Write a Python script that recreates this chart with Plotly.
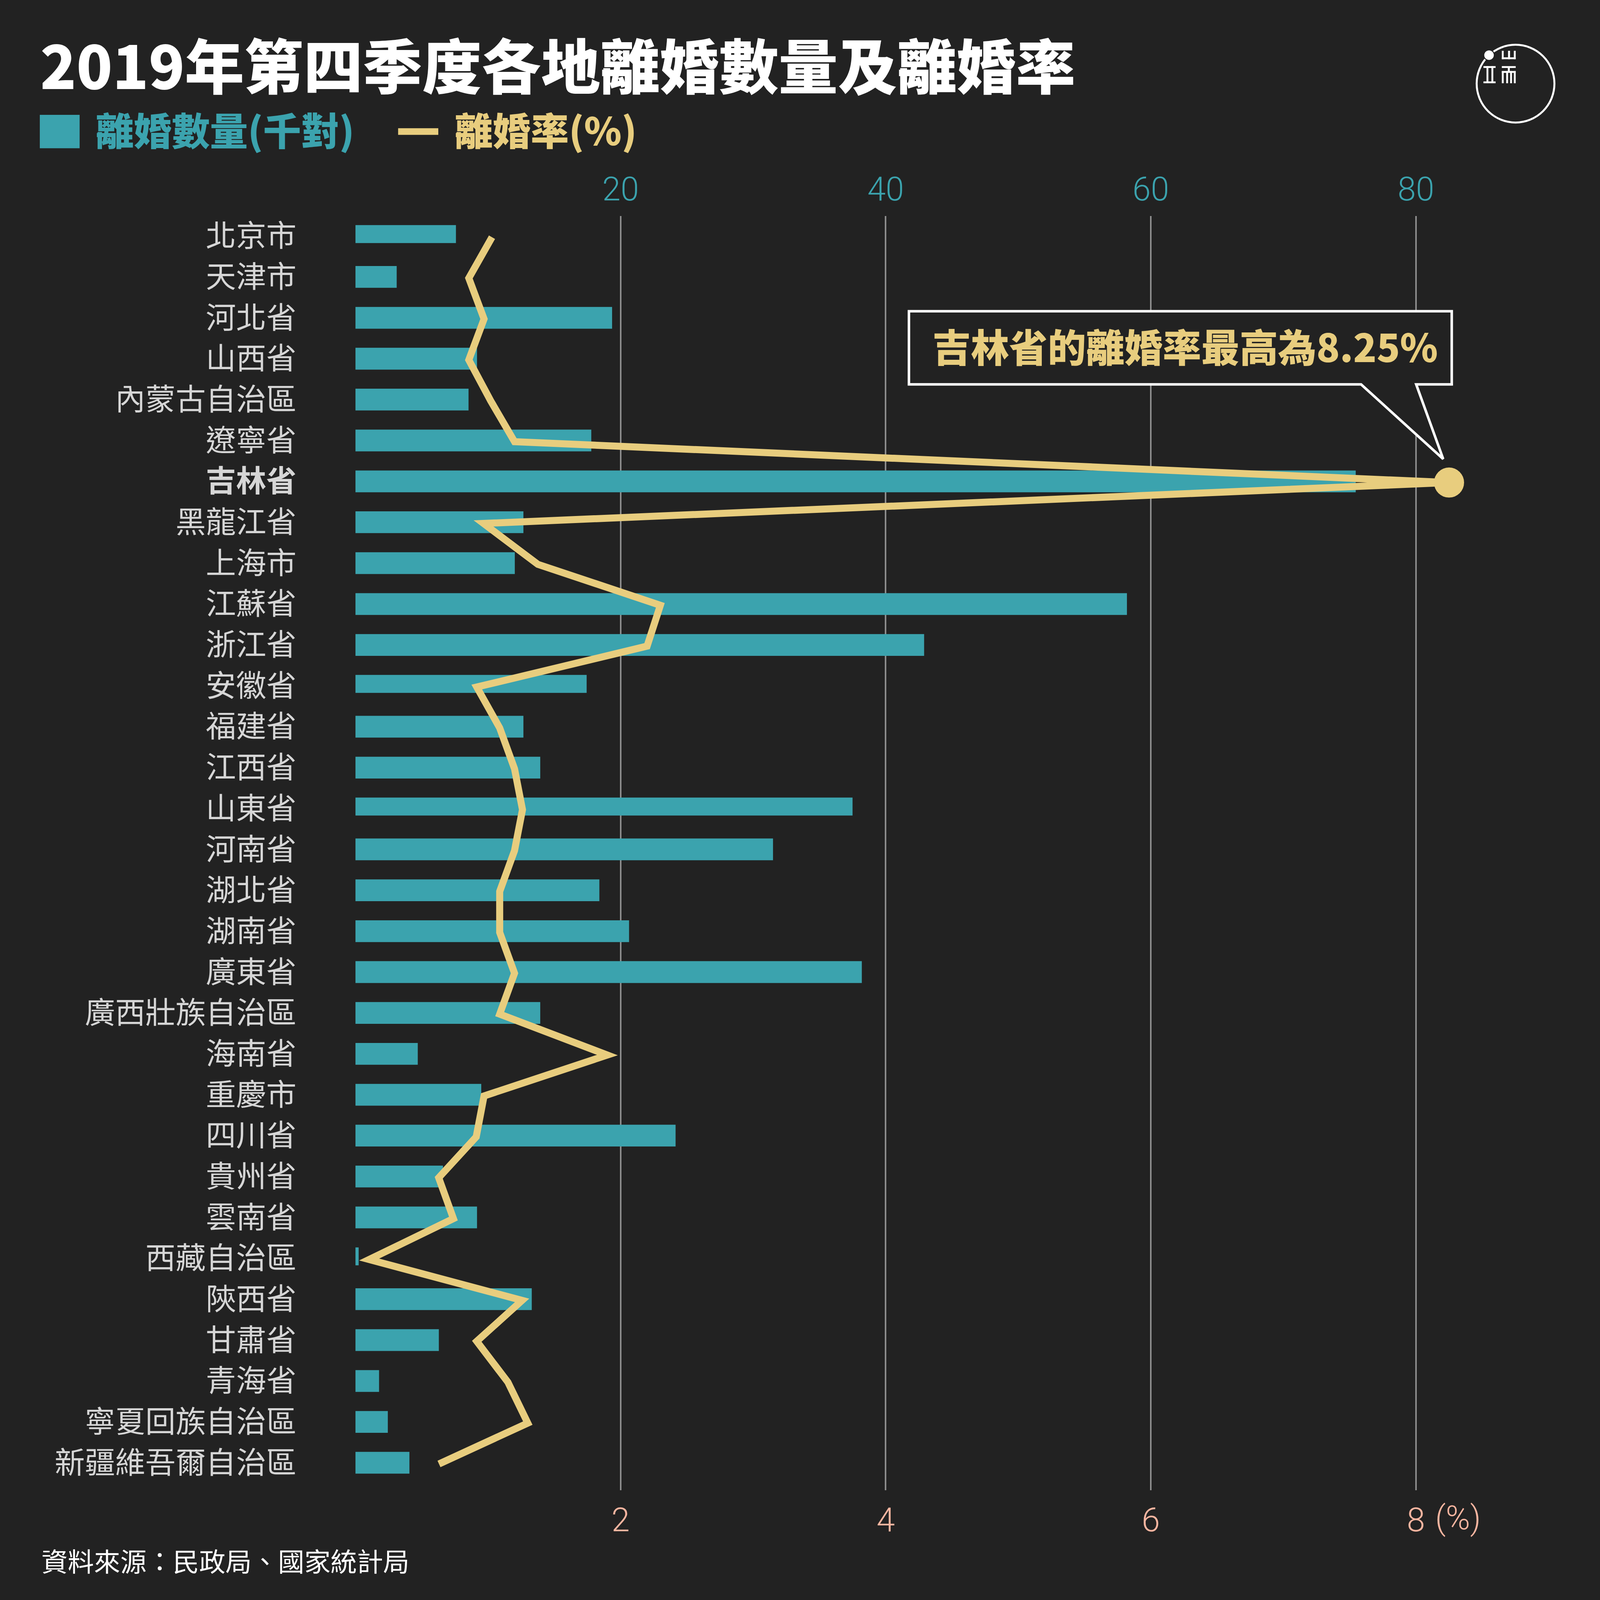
import plotly.graph_objects as go

# The reference is 4501x5359 but the browser window is limited to 4096x4096,
# so the whole layout is scaled proportionally to fit in that window.
W0, H0 = 4501, 5359
WIN = 4096
SX, SY = WIN/W0, WIN/H0
S = 0.84            # uniform scale for round things (logo, dot, strokes)
L, R, T, B = 1000, 4300, 723, 4992   # plot area in reference pixels

provinces = ["北京市","天津市","河北省","山西省","內蒙古自治區","遼寧省","吉林省","黑龍江省","上海市","江蘇省",
             "浙江省","安徽省","福建省","江西省","山東省","河南省","湖北省","湖南省","廣東省","廣西壯族自治區",
             "海南省","重慶市","四川省","貴州省","雲南省","西藏自治區","陝西省","甘肅省","青海省","寧夏回族自治區",
             "新疆維吾爾自治區"]
divorces = [7.58,3.11,19.36,9.17,8.53,17.79,75.46,12.67,12.02,58.2,
            42.9,17.44,12.67,13.94,37.5,31.5,18.40,20.64,38.2,13.94,
            4.70,9.49,24.15,6.60,9.17,0.24,13.3,6.29,1.78,2.44,4.07]
rates = [1.03,0.855,0.97,0.855,1.02,1.20,8.25,0.966,1.376,2.30,
         2.20,0.915,1.088,1.20,1.26,1.20,1.088,1.088,1.20,1.088,
         1.90,0.97,0.911,0.628,0.739,0.103,1.257,0.915,1.15,1.30,0.63]
count_ticks = [0,20,40,60,80]
count_labels = ["","20","40","60","80"]
rate_ticks = [2,4,6,8]
rate_labels = ["2","4","6","8"]
highlight = "吉林省"

BG, TEAL, GOLD, GRID, LABEL, PINK, WHITE = "#222222","#3BA3AE","#E8CD7E","#8C8C8C","#D6D6D6","#F8B5A0","#FFFFFF"
CJK = "Noto Sans CJK TC"
LIGHT = "Roboto"

STEP = 137.0
Y0 = 790.0
BAR_H = 73.0
SHORT = {"北京市","安徽省","山東省","西藏自治區"}
bar_w = [(60.0 if p in SHORT else BAR_H)/STEP for p in provinces]
PX_PER_K = 37.29

xr1 = [0, (R-L)/PX_PER_K]
xr2 = [0, (R-L)/(PX_PER_K*10)]
yr = [(B-Y0)/STEP, (T-Y0)/STEP]
yr2 = [(B-Y0-4)/STEP, (T-Y0-4)/STEP]

def px(x): return (x-L)/(R-L)
def py(y): return (B-y)/(B-T)
def fs(s): return round(s*SX, 1)

LCX, LCY = 4263.5, 279.5
def lx(x): return LCX+(x-LCX)*S/SX
def ly(y): return LCY+(y-LCY)*S/SY

fig = go.Figure()
fig.add_bar(y=provinces, x=divorces, orientation="h", width=bar_w, offset=-BAR_H/2/STEP,
            marker=dict(color=TEAL, line=dict(width=0)), xaxis="x", yaxis="y", showlegend=False, hoverinfo="x+y")
fig.add_scatter(y=provinces, x=rates, mode="lines", line=dict(color=GOLD, width=18), xaxis="x2", yaxis="y2",
                showlegend=False, hoverinfo="x+y")
i = provinces.index(highlight)
fig.add_scatter(y=[provinces[i]], x=[rates[i]], mode="markers", marker=dict(color=GOLD, size=77, line=dict(width=0)),
                xaxis="x2", yaxis="y2", showlegend=False, hoverinfo="x+y")

shapes = []
def rect(x0,y0,x1,y1,color):
    shapes.append(dict(type="rect", xref="paper", yref="paper", x0=px(x0), x1=px(x1), y0=py(y1), y1=py(y0),
                       fillcolor=color, line=dict(width=0), layer="above"))
def lrect(x0,y0,x1,y1,color=WHITE):
    rect(lx(x0),ly(y0),lx(x1),ly(y1),color)
def lcirc(cx,cy,r,fill,lc,lw):
    shapes.append(dict(type="circle", xref="paper", yref="paper", x0=px(lx(cx-r)), x1=px(lx(cx+r)),
                       y0=py(ly(cy+r)), y1=py(ly(cy-r)), fillcolor=fill, line=dict(color=lc, width=lw), layer="above"))
# legend swatches
rect(112,384,224,496,TEAL)
rect(1120,429,1233,451,GOLD)
# callout
pts = [(2557,1042),(4084,1042),(4084,1287),(3984,1287),(4060,1537),(3829,1287),(2557,1287)]
path = "M " + " L ".join(f"{px(a):.5f},{py(b):.5f}" for a,b in pts) + " Z"
shapes.append(dict(type="path", xref="paper", yref="paper", path=path, fillcolor=BG,
                   line=dict(color=WHITE, width=6.5), layer="above"))
# logo
lcirc(4263.5,279.5,118.5,"rgba(0,0,0,0)",WHITE,5)
lcirc(4182.7,192.7,16,WHITE,BG,2.5)
lrect(4221.7,199.3,4264,205); lrect(4221.7,179.3,4227.3,205)
lrect(4240.7,179.3,4246.7,205); lrect(4258.3,179.3,4264,205)
lrect(4221.7,226,4264,231.7); lrect(4240,231,4246,245); lrect(4221.7,241,4264,246.5)
for a in (4221.7,4235,4247,4258.3):
    lrect(a,241,a+5.7,278.3)
lrect(4165.7,226,4202.7,231.7); lrect(4165.7,272.7,4202.7,278.3)
lrect(4175,226,4180.7,278); lrect(4190,226,4195.7,278)

def note(text,x,y,size,color,anchor="left",family=CJK,weight=None):
    f = dict(family=family,size=fs(size),color=color)
    if weight: f["weight"]=weight
    return dict(text=text,xref="paper",yref="paper",x=px(x),y=py(y),xanchor=anchor,yanchor="middle",
                showarrow=False,font=f,borderpad=0,align="left")
annos = [
    note("離婚數量(千對)",268,430,107,TEAL,weight=900),
    note("離婚率(%)",1278,430,107,GOLD,weight=900),
    note("吉林省的離婚率最高為8.25%",2622,1156,108,GOLD,weight=900),
    note("(%)",4036,5086,93,PINK,family=LIGHT,weight=300),
    note("資料來源：民政局、國家統計局",115,5225,74,WHITE,weight=400),
]

tick_text = [f"<b>{p}</b>" if p==highlight else p for p in provinces]

fig.update_layout(
    width=WIN, height=WIN, autosize=False,
    margin=dict(l=L*SX, r=(W0-R)*SX, t=T*SY, b=(H0-B)*SY, pad=0),
    paper_bgcolor=BG, plot_bgcolor=BG, showlegend=False,
    title=dict(text="2019年第四季度各地離婚數量及離婚率", x=113/W0, y=1-229/H0, xanchor="left", yanchor="middle",
               xref="container", yref="container",
               font=dict(family=CJK, size=fs(167), color=WHITE, weight=900), pad=dict(l=0,r=0,t=0,b=0)),
    xaxis=dict(domain=[0,1], range=xr1, side="top", anchor="y", tickmode="array", tickvals=count_ticks, ticktext=count_labels,
               showgrid=True, gridcolor=GRID, gridwidth=3.6, zeroline=False, showline=False, ticks="",
               ticklabelstandoff=22, tickfont=dict(family=LIGHT,size=fs(93),color=TEAL,weight=300)),
    xaxis2=dict(domain=[0,1], range=xr2, side="bottom", overlaying="x", anchor="y2", tickmode="array",
                tickvals=rate_ticks, ticktext=rate_labels, showgrid=False, zeroline=False, showline=False, ticks="",
                ticklabelstandoff=19, tickfont=dict(family=LIGHT,size=fs(93),color=PINK,weight=300)),
    yaxis=dict(domain=[0,1], range=yr, type="category", categoryorder="array", categoryarray=provinces, anchor="x",
               tickmode="array", tickvals=provinces, ticktext=tick_text, showgrid=False, zeroline=False, showline=False,
               ticks="", ticklabelstandoff=150, tickfont=dict(family=CJK,size=fs(85),color=LABEL,weight=400)),
    yaxis2=dict(domain=[0,1], range=yr2, type="category", categoryorder="array", categoryarray=provinces,
                overlaying="y", anchor="x2", visible=False),
    shapes=shapes, annotations=annos, hovermode="closest",
)

post = """
document.body.style.margin='0';document.documentElement.style.margin='0';
document.querySelectorAll('.js-line').forEach(function(e){e.style.strokeLinejoin='miter';e.style.strokeMiterlimit='10';e.style.strokeLinecap='butt';});
"""
fig.write_html("out.html", config={"displayModeBar":False}, post_script=post)
